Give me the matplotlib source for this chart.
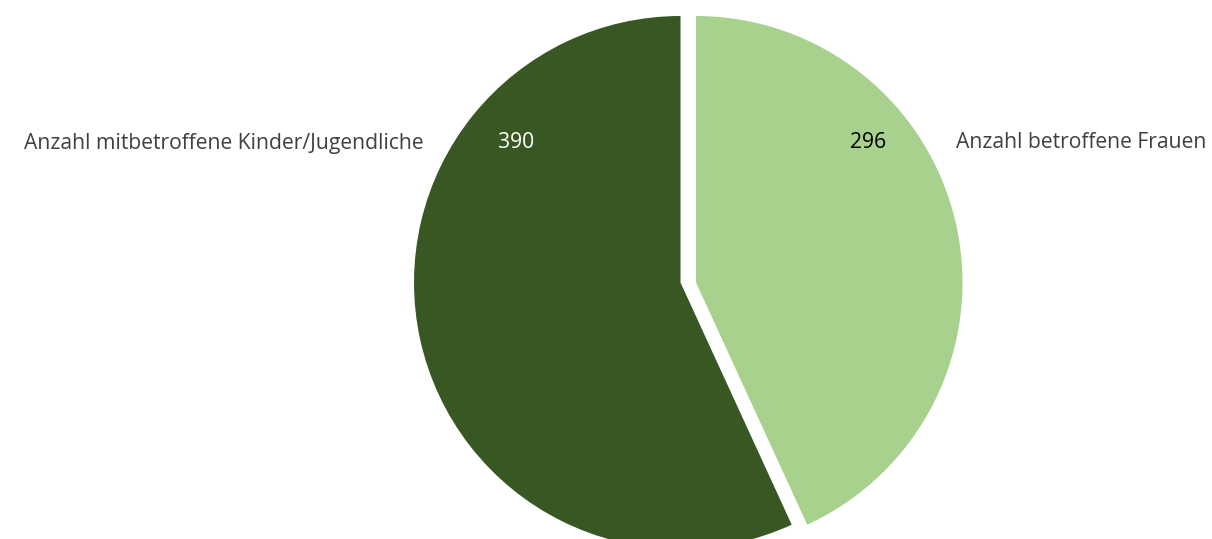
import matplotlib
matplotlib.use("Agg")
import matplotlib.pyplot as plt

categories = ["Anzahl betroffene Frauen", "Anzahl mitbetroffene Kinder/Jugendliche"]
values = [296, 390]
colors = ["#A9D18E", "#385723"]
value_colors = ["#000000", "#FFFFFF"]

W, H = 1212, 539
fig = plt.figure(figsize=(W / 100, H / 100), dpi=100)
ax = fig.add_axes([0, 0, 1, 1])

cx, cy = 680.5, H - 282.5
r = 266.5
wedges, _ = ax.pie(values, colors=colors, startangle=90, counterclock=False,
                   radius=r, center=(cx, cy), wedgeprops=dict(linewidth=0))
# light slice offset to the right
wedges[0].set_center((cx + 15.5, cy))

ax.set_xlim(0, W)
ax.set_ylim(0, H)
ax.set_aspect("auto")
ax.axis("off")

font = "Open Sans"
fs = 15.2
ty = H - 143
ax.text(956, ty, categories[0], ha="left", va="center", fontsize=fs,
        color="#404040", family=font)
ax.text(424, ty, categories[1], ha="right", va="center", fontsize=fs,
        color="#404040", family=font)
ax.text(868, ty, str(values[0]), ha="center", va="center", fontsize=fs,
        color=value_colors[0], family=font)
ax.text(516, ty, str(values[1]), ha="center", va="center", fontsize=fs,
        color=value_colors[1], family=font)

fig.savefig("out.png", dpi=100, facecolor="white")
